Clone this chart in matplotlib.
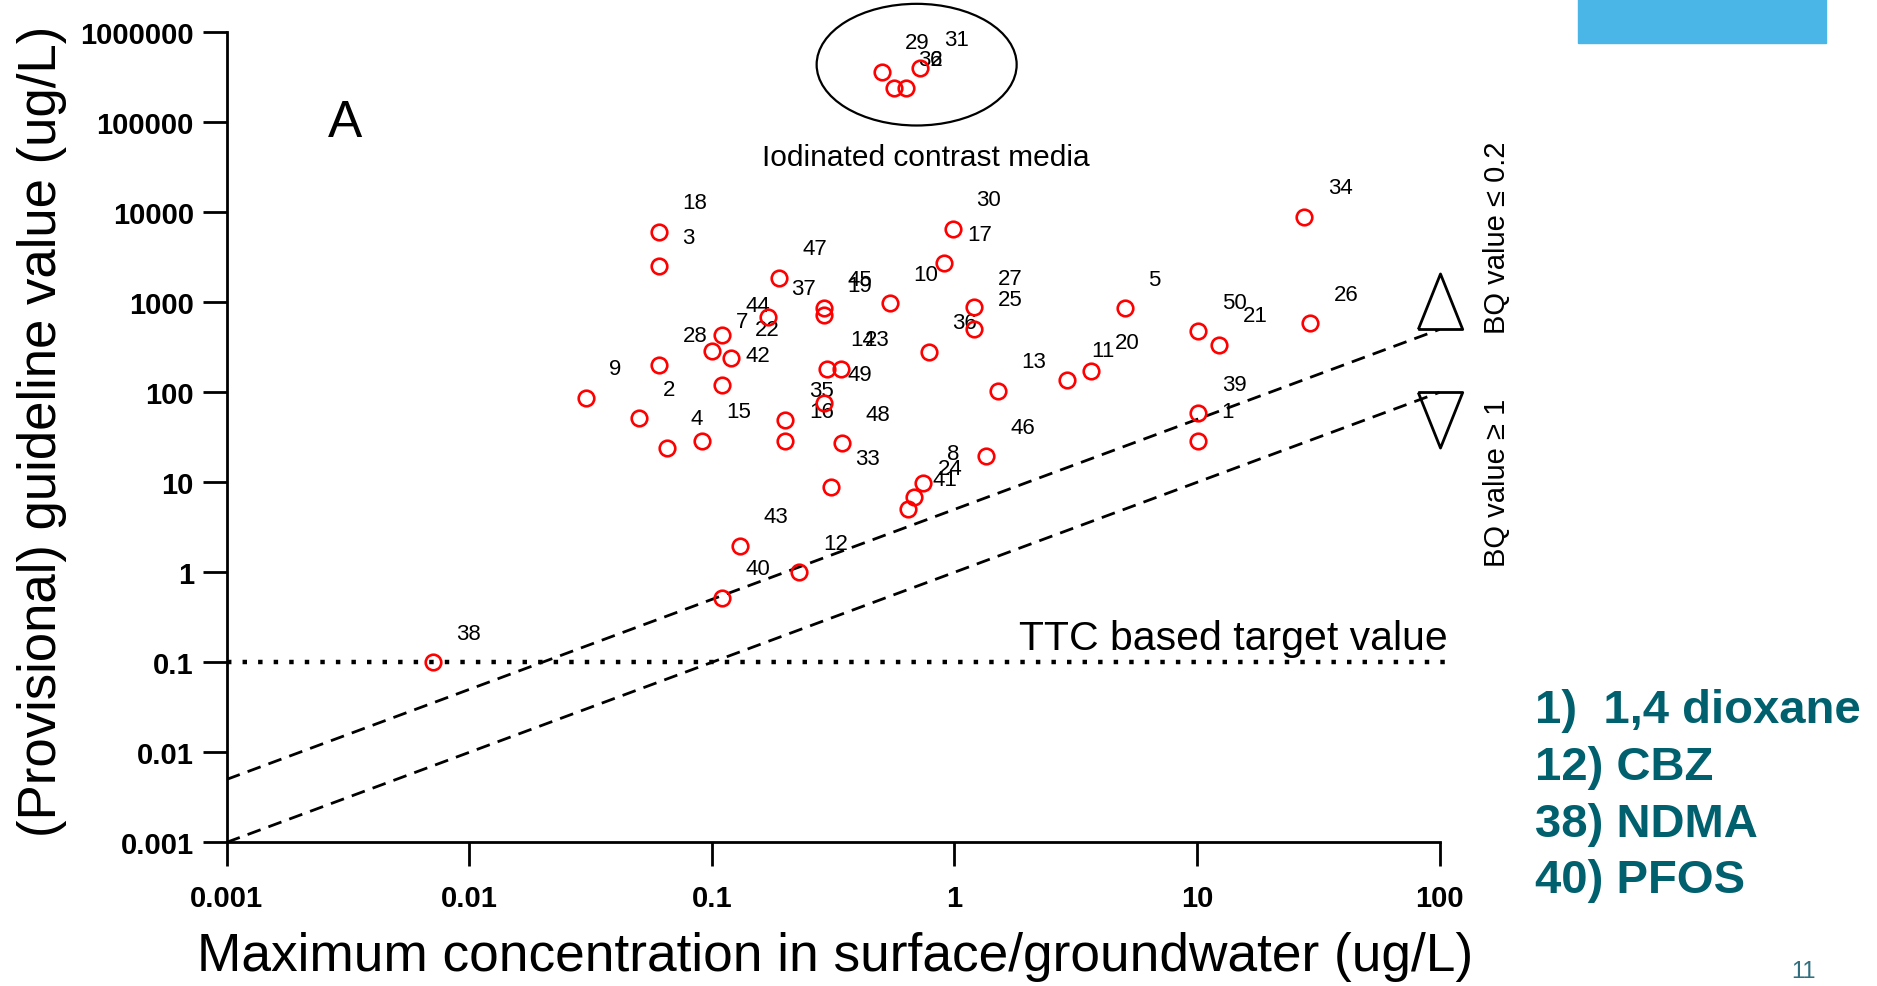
import matplotlib
matplotlib.use("Agg")
import matplotlib.pyplot as plt
from matplotlib.patches import Ellipse, Rectangle
from matplotlib.ticker import NullLocator

plt.rcParams['font.family'] = ['Liberation Sans', 'DejaVu Sans']

# compound number, max concentration (ug/L), (provisional) guideline value (ug/L)
ids = [1, 2, 3, 4, 5, 6, 7, 8, 9, 10,
       11, 12, 13, 14, 15, 16, 17, 18, 19, 20,
       21, 22, 23, 24, 25, 26, 27, 28, 29, 30,
       31, 32, 33, 34, 35, 36, 37, 38, 39, 40,
       41, 42, 43, 44, 45, 46, 47, 48, 49, 50]
conc = [10.1, 0.050, 0.0605, 0.0652, 5.04, 0.630, 0.1005, 0.745, 0.0302, 0.541,
        2.92, 0.229, 1.51, 0.298, 0.0914, 0.201, 0.902, 0.0605, 0.290, 3.65,
        12.3, 0.120, 0.342, 0.681, 1.205, 29.3, 1.205, 0.0605, 0.501, 0.982,
        0.721, 0.564, 0.311, 27.7, 0.201, 0.785, 0.170, 0.00706, 10.1, 0.110,
        0.646, 0.110, 0.1306, 0.110, 0.290, 1.355, 0.189, 0.345, 0.290, 10.1]
guide = [29.0, 51.4, 2510, 24.0, 857, 239000, 290, 9.8, 87, 975,
         138, 1.0, 103, 182, 29.0, 29.0, 2710, 6080, 722, 171,
         338, 239, 182, 6.8, 505, 585, 880, 203, 365000, 6520,
         398000, 239000, 8.8, 8930, 49.2, 282, 681, 0.1, 58.4, 0.52,
         5.1, 120, 1.98, 433, 857, 19.5, 1862, 27.1, 75.5, 476]

# reference lines: guideline = concentration / BQ
line_x = [0.001, 100]
line_bq02 = [0.005, 500]
line_bq1 = [0.001, 100]
ttc_value = 0.1

x_ticks = [0.001, 0.01, 0.1, 1, 10, 100]
x_tick_labels = ['0.001', '0.01', '0.1', '1', '10', '100']
y_ticks = [0.001, 0.01, 0.1, 1, 10, 100, 1000, 10000, 100000, 1000000]
y_tick_labels = ['0.001', '0.01', '0.1', '1', '10', '100', '1000', '10000',
                 '100000', '1000000']

key_lines = ['1)  1,4 dioxane', '12) CBZ', '38) NDMA', '40) PFOS']
teal = '#00606E'

fig = plt.figure(figsize=(18.77, 9.87), dpi=100)
ax = fig.add_axes([0.1208, 0.1456, 0.6462, 0.8207])
ax.set_xscale('log')
ax.set_yscale('log')
ax.set_xlim(0.001, 100)
ax.set_ylim(0.001, 1000000)

# dashed BQ lines and dotted TTC line
ax.plot(line_x, line_bq02, color='black', lw=2, linestyle=(0, (5, 3)))
ax.plot(line_x, line_bq1, color='black', lw=2, linestyle=(0, (5, 3)))
ax.axhline(ttc_value, xmin=0, xmax=1.006, color='black', lw=3.2,
           linestyle=(0, (1, 2.5)), dash_capstyle='butt', clip_on=False)

# open triangles at the line ends
up_tri = [(-0.8, 0), (0.8, 0), (0, 2), (-0.8, 0)]
down_tri = [(-0.8, 0), (0.8, 0), (0, -2), (-0.8, 0)]
ax.plot(line_x[-1], line_bq02[-1], marker=up_tri, ms=80, mfc='white',
        mec='black', mew=2, clip_on=False, zorder=4)
ax.plot(line_x[-1], line_bq1[-1], marker=down_tri, ms=80, mfc='none',
        mec='black', mew=2, clip_on=False, zorder=4)

# data points
ax.plot(conc, guide, linestyle='none', marker='o', ms=11.2, mfc='none',
        mec='red', mew=1.9, clip_on=False, zorder=5)
for i, cx, gy in zip(ids, conc, guide):
    ax.annotate(str(i), (cx, gy), xytext=(17, 21), textcoords='offset points',
                ha='left', va='center', fontsize=16)

# axes styling
for side in ['top', 'right']:
    ax.spines[side].set_visible(False)
for side in ['left', 'bottom']:
    ax.spines[side].set_linewidth(2)
ax.set_xticks(x_ticks)
ax.set_xticklabels(x_tick_labels, fontweight='bold', fontsize=21)
ax.set_yticks(y_ticks)
ax.set_yticklabels(y_tick_labels, fontweight='bold', fontsize=21)
ax.xaxis.set_minor_locator(NullLocator())
ax.yaxis.set_minor_locator(NullLocator())
ax.tick_params(axis='both', direction='out', length=17, width=2)
ax.tick_params(axis='y', pad=6.7)
ax.tick_params(axis='x', pad=13)

# annotations inside the plot
ax.text(0.0975, 0.889, 'A', transform=ax.transAxes, fontsize=37,
        ha='center', va='center')
ax.add_patch(Ellipse((0.5688, 0.960), 0.1649, 0.1502, transform=ax.transAxes,
                     fill=False, edgecolor='black', lw=1.6, clip_on=False))
ax.text(0.5765, 0.846, 'Iodinated contrast media', transform=ax.transAxes,
        fontsize=21.5, ha='center', va='center')
ax.text(1.007, 0.2386, 'TTC based target value', transform=ax.transAxes,
        fontsize=29.5, ha='right', va='baseline')

# axis titles
fig.text(0.4451, 0.0307, 'Maximum concentration in surface/groundwater (ug/L)',
         fontsize=38.3, ha='center', va='center')
fig.text(0.0224, 0.5633, '(Provisional) guideline value (ug/L)', fontsize=38,
         rotation=90, ha='center', va='center')

# BQ labels
fig.text(0.7975, 0.7589, 'BQ value \u2264 0.2', fontsize=21, rotation=90,
         ha='center', va='center')
fig.text(0.7975, 0.5106, 'BQ value \u2265 1', fontsize=21, rotation=90,
         ha='center', va='center')

# key on the right
key_y = [0.2672, 0.2097, 0.1523, 0.0949]
for txt, yy in zip(key_lines, key_y):
    fig.text(0.8178, yy, txt, fontsize=34, fontweight='bold', color=teal,
             ha='left', va='baseline')

# slide decorations
fig.patches.append(Rectangle((0.8407, 0.9554), 0.1321, 0.0446,
                             transform=fig.transFigure, color='#4AB6E8'))
fig.text(0.9606, 0.004, '11', fontsize=17, color='#2F6F7F',
         ha='center', va='bottom')

fig.savefig('out.png', dpi=100)
